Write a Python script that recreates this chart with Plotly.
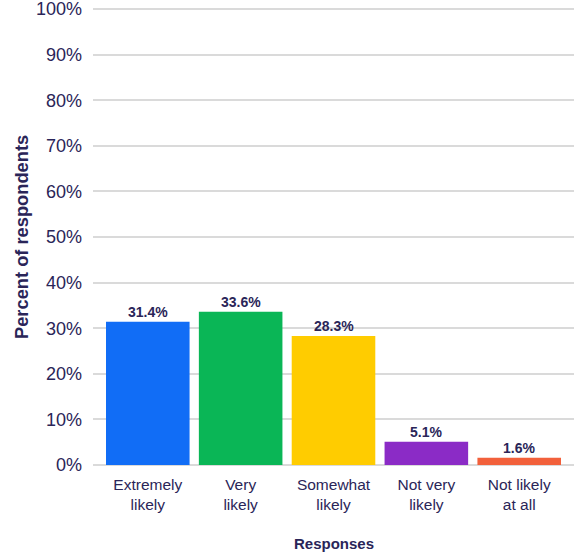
import plotly.graph_objects as go

categories = ["Extremely<br>likely", "Very<br>likely", "Somewhat<br>likely", "Not very<br>likely", "Not likely<br>at all"]
values = [31.4, 33.6, 28.3, 5.1, 1.6]
colors = ["#116DF6", "#0AB656", "#FFCC00", "#8B2BC6", "#F2603B"]
y_ticks = [0, 10, 20, 30, 40, 50, 60, 70, 80, 90, 100]
y_ticktext = [f"{v}%" for v in y_ticks]

navy = "#2A2558"
font = "Liberation Sans, Arial, Helvetica, sans-serif"

xs = list(range(len(categories)))

fig = go.Figure(go.Bar(
    x=xs,
    y=values,
    marker=dict(color=colors, line=dict(width=0)),
    width=0.9,
    hoverinfo="skip",
))

value_labels = [
    dict(text=f"<b>{v}%</b>", x=x, y=v, xref="x", yref="y",
         xanchor="center", yanchor="bottom", yshift=0, showarrow=False,
         font=dict(family=font, size=14, color=navy))
    for x, v in zip(xs, values)
]

fig.update_layout(
    width=574, height=556,
    margin=dict(l=93, r=0, t=0, b=91, autoexpand=False),
    paper_bgcolor="white", plot_bgcolor="white",
    showlegend=False,
    font=dict(family=font, color=navy),
    xaxis=dict(
        tickmode="array",
        tickvals=xs,
        ticktext=categories,
        range=[-0.59, 4.59],
        showgrid=False, zeroline=False, showline=False,
        ticks="", tickfont=dict(size=15.5, color=navy),
        ticklabelstandoff=8,
        automargin=False,
    ),
    yaxis=dict(
        range=[0, 101.97],
        tickmode="array",
        tickvals=y_ticks,
        ticktext=y_ticktext,
        showgrid=True, gridcolor="#DADADA", gridwidth=2,
        zeroline=True, zerolinecolor="#DADADA", zerolinewidth=2,
        showline=False, ticks="",
        ticklabelstandoff=10,
        ticklabeloverflow="allow",
        tickfont=dict(size=18, color=navy),
        automargin=False,
    ),
    annotations=value_labels + [
        dict(text="<b>Responses</b>", xref="paper", yref="paper", x=0.5, y=0,
             xanchor="center", yanchor="middle", yshift=-78, showarrow=False,
             font=dict(size=15, color=navy)),
        dict(text="<b>Percent of respondents</b>", xref="paper", yref="y", x=0, y=50,
             xanchor="center", yanchor="middle", xshift=-71, textangle=-90, showarrow=False,
             font=dict(size=18.3, color=navy)),
    ],
)

fig.write_html("out.html", config={"displayModeBar": False},
               post_script="document.body.style.margin='0';")
